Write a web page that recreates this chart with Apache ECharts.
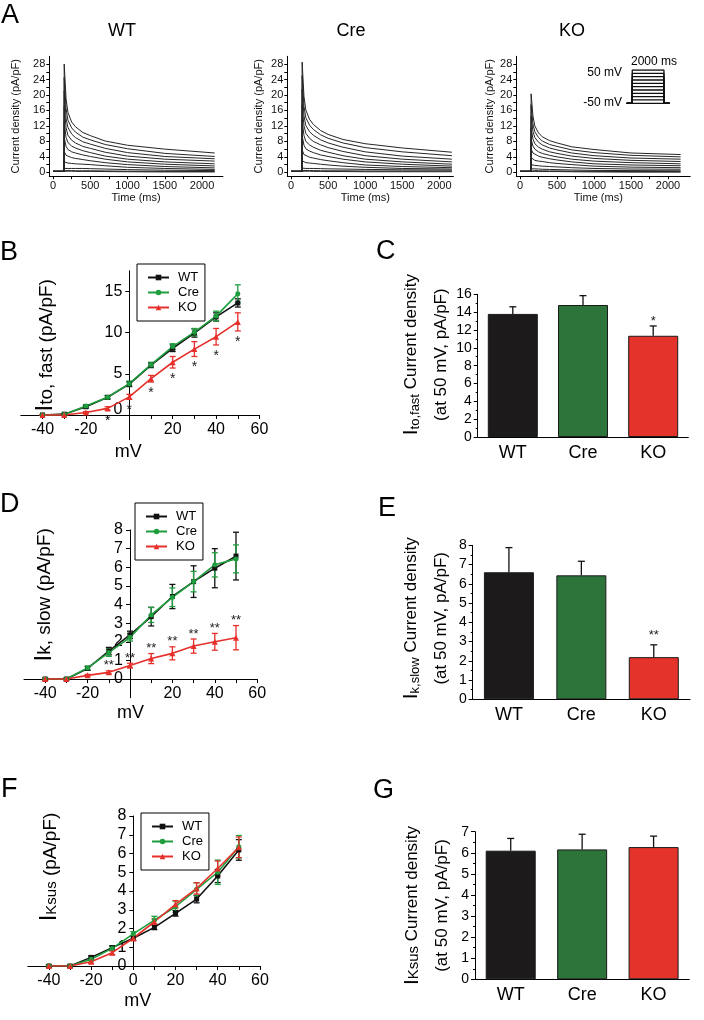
<!DOCTYPE html>
<html><head><meta charset="utf-8">
<script src="https://cdn.jsdelivr.net/npm/echarts@6/dist/echarts.min.js"></script>
<style>html,body{margin:0;padding:0;background:#fff}#c{width:704px;height:1020px}</style>
</head><body><div id="c"></div>
<script>
const FONT = "'Liberation Sans', Arial, Helvetica, sans-serif";

// ---------- Panel A: sampled current traces (pA/pF) ----------
const traceTimes = [0, 148, 150, 175, 200, 250, 300, 400, 500, 700, 1000, 1500, 2170];
const holdingCurrent = 0.25;
const testPotentials = [-50, -40, -30, -20, -10, 0, 10, 20, 30, 40, 50];
const wtTraces = [
  [0.3, 0.3, 0.3, 0.3, 0.25, 0.25, 0.25, 0.2, 0.15, 0.1, 0.1],
  [0.45, 0.45, 0.45, 0.45, 0.4, 0.4, 0.4, 0.35, 0.3, 0.25, 0.2],
  [1.0, 1.0, 1.0, 1.0, 1.0, 1.0, 0.95, 0.85, 0.7, 0.55, 0.45],
  [2.7, 2.5, 2.4, 2.3, 2.2, 2.1, 2.0, 1.7, 1.3, 1.0, 0.75],
  [5.4, 4.4, 4.0, 3.8, 3.6, 3.3, 3.0, 2.5, 2.0, 1.5, 1.15],
  [9.0, 6.7, 5.9, 5.3, 5.0, 4.5, 4.1, 3.4, 2.7, 2.1, 1.65],
  [13.0, 9.0, 7.7, 6.8, 6.3, 5.6, 5.1, 4.2, 3.4, 2.7, 2.2],
  [17.0, 11.5, 9.6, 8.3, 7.6, 6.7, 6.2, 5.2, 4.2, 3.4, 2.9],
  [21.0, 14.0, 11.6, 9.9, 9.0, 7.9, 7.3, 6.2, 5.1, 4.1, 3.5],
  [24.5, 16.5, 13.5, 11.5, 10.4, 9.1, 8.4, 7.2, 6.1, 4.9, 4.1],
  [28.0, 19.0, 15.5, 13.0, 11.8, 10.3, 9.5, 8.1, 7.0, 6.0, 5.0]
];
const creTraces = [
  [0.3, 0.3, 0.3, 0.3, 0.25, 0.25, 0.2, 0.2, 0.15, 0.15, 0.15],
  [0.5, 0.5, 0.5, 0.45, 0.45, 0.4, 0.4, 0.4, 0.35, 0.35, 0.35],
  [1.1, 1.0, 1.0, 1.0, 1.0, 0.95, 0.9, 0.85, 0.75, 0.65, 0.6],
  [3.0, 2.6, 2.5, 2.4, 2.3, 2.1, 1.9, 1.6, 1.3, 1.0, 0.85],
  [5.8, 4.6, 4.2, 3.9, 3.7, 3.3, 3.0, 2.5, 1.9, 1.5, 1.2],
  [9.5, 7.0, 6.1, 5.5, 5.1, 4.5, 4.1, 3.4, 2.7, 2.1, 1.6],
  [13.5, 9.5, 8.0, 7.1, 6.5, 5.7, 5.2, 4.3, 3.4, 2.7, 2.1],
  [17.5, 12.0, 10.1, 8.8, 8.0, 7.1, 6.4, 5.4, 4.3, 3.4, 2.7],
  [21.5, 14.6, 12.1, 10.5, 9.6, 8.4, 7.6, 6.5, 5.3, 4.2, 3.4],
  [25.0, 17.0, 14.1, 12.2, 11.1, 9.7, 8.8, 7.6, 6.4, 5.3, 4.3],
  [28.5, 19.6, 16.1, 13.7, 12.4, 10.8, 9.8, 8.5, 7.4, 6.3, 5.2]
];
const koTraces = [
  [0.25, 0.25, 0.25, 0.2, 0.2, 0.2, 0.2, 0.15, 0.1, 0.05, 0.05],
  [0.45, 0.45, 0.45, 0.4, 0.4, 0.35, 0.35, 0.3, 0.25, 0.2, 0.2],
  [0.9, 0.9, 0.9, 0.85, 0.8, 0.75, 0.7, 0.6, 0.5, 0.45, 0.4],
  [2.0, 1.9, 1.8, 1.7, 1.6, 1.5, 1.4, 1.2, 1.0, 0.85, 0.8],
  [3.8, 3.3, 3.1, 2.9, 2.8, 2.5, 2.3, 2.0, 1.6, 1.35, 1.2],
  [6.0, 5.0, 4.6, 4.2, 3.9, 3.5, 3.2, 2.7, 2.2, 1.9, 1.7],
  [8.6, 6.8, 6.0, 5.3, 4.9, 4.4, 4.0, 3.4, 2.9, 2.5, 2.2],
  [11.5, 8.6, 7.4, 6.5, 6.0, 5.3, 4.9, 4.2, 3.6, 3.1, 2.8],
  [14.5, 10.6, 9.0, 7.8, 7.1, 6.3, 5.8, 5.0, 4.3, 3.7, 3.4],
  [17.5, 12.5, 10.5, 9.0, 8.1, 7.2, 6.7, 5.8, 5.1, 4.4, 4.0],
  [20.3, 14.6, 12.0, 10.2, 9.2, 8.2, 7.6, 6.6, 5.9, 5.0, 4.6]
];
// voltage protocol (inset)
const protocolTimes = [-350, 0, 0, 2000, 2000, 2350];
const holdingPotential = -50;

// ---------- Panels B, D, F: I-V relations ----------
const ivVoltages = [-40, -30, -20, -10, 0, 10, 20, 30, 40, 50];
const itoWT     = [0, 0.1, 1.0, 2.15, 3.75, 6.05, 8.1, 9.95, 11.9, 13.6];
const itoWTErr  = [0.05, 0.05, 0.15, 0.2, 0.3, 0.3, 0.4, 0.5, 0.5, 0.5];
const itoCre    = [0, 0.05, 1.1, 2.15, 3.8, 6.1, 8.3, 10.05, 12.0, 14.7];
const itoCreErr = [0.05, 0.05, 0.15, 0.2, 0.3, 0.3, 0.35, 0.45, 0.6, 1.1];
const itoKO     = [0, 0, 0.3, 0.8, 2.2, 4.4, 6.4, 8.0, 9.5, 11.3];
const itoKOErr  = [0.05, 0.05, 0.1, 0.2, 0.3, 0.4, 0.7, 0.9, 1.0, 1.1];
const itoSigV   = [-10, 0, 10, 20, 30, 40, 50];
const itoSig    = ['*', '*', '*', '*', '*', '*', '*'];

const ikslowWT     = [0, 0, 0.57, 1.5, 2.37, 3.35, 4.43, 5.23, 5.95, 6.6];
const ikslowWTErr  = [0.05, 0.05, 0.1, 0.2, 0.2, 0.5, 0.65, 0.85, 1.05, 1.28];
const ikslowCre    = [0, 0, 0.6, 1.42, 2.24, 3.44, 4.39, 5.23, 6.13, 6.45];
const ikslowCreErr = [0.05, 0.05, 0.1, 0.2, 0.2, 0.4, 0.5, 0.55, 0.65, 0.75];
const ikslowKO     = [0, 0, 0.2, 0.36, 0.73, 1.1, 1.38, 1.77, 2.0, 2.22];
const ikslowKOErr  = [0.05, 0.03, 0.05, 0.08, 0.12, 0.27, 0.35, 0.38, 0.45, 0.65];
const ikslowSigV   = [-10, 0, 10, 20, 30, 40, 50];
const ikslowSig    = ['**', '**', '**', '**', '**', '**', '**'];

const iksusWT     = [0, 0, 0.46, 0.98, 1.48, 2.06, 2.81, 3.57, 4.8, 6.19];
const iksusWTErr  = [0.05, 0.05, 0.08, 0.1, 0.12, 0.12, 0.15, 0.2, 0.35, 0.55];
const iksusCre    = [0, 0, 0.36, 0.94, 1.71, 2.45, 3.16, 4.09, 5.0, 6.36];
const iksusCreErr = [0.05, 0.05, 0.08, 0.12, 0.12, 0.2, 0.3, 0.35, 0.65, 0.6];
const iksusKO     = [0, 0, 0.23, 0.71, 1.48, 2.36, 3.29, 4.14, 5.2, 6.33];
const iksusKOErr  = [0.05, 0.05, 0.08, 0.1, 0.12, 0.15, 0.2, 0.3, 0.4, 0.55];

// ---------- Panels C, E, G: values at +50 mV ----------
const groups = ['WT', 'Cre', 'KO'];
const itoBar = [13.8, 14.8, 11.35];
const itoBarErr = [0.8, 1.05, 1.1];
const itoBarSig = ['', '', '*'];
const ikslowBar = [6.6, 6.44, 2.19];
const ikslowBarErr = [1.28, 0.73, 0.64];
const ikslowBarSig = ['', '', '**'];
const iksusBar = [6.1, 6.16, 6.27];
const iksusBarErr = [0.58, 0.72, 0.52];

// ---------- styling ----------
const C_WT = '#111111', C_CRE = '#1f9e3e', C_KO = '#e6302b';
const BAR_COLORS = ['#1c1a1a', '#2c7439', '#e3332a'];
const BLACK = '#000';

const chart = echarts.init(document.getElementById('c'), null, {renderer: 'canvas'});

const gridBoxes = [
  [49.3, 56.3, 173.6, 119.9],
  [287.3, 56.3, 166.1, 119.9],
  [516.3, 56.3, 173.9, 119.9],
  [626.7, 70, 42.8, 33.3],
  [20.8, 270.8, 238.7, 168.9],
  [477.7, 294.3, 210.6, 142.7],
  [24, 530, 233.2, 167.7],
  [472.7, 545.3, 217.3, 154],
  [27.8, 816, 232.1, 150],
  [475, 831.7, 214.3, 147.6]
];
const grids = gridBoxes.map(b => ({left: b[0], top: b[1], width: b[2], height: b[3],
  containLabel: false, outerBoundsMode: 'none'}));

const lineStyleAxis = {color: BLACK, width: 1};
function range(a, b, s) { const r = []; for (let v = a; v <= b + 1e-9; v += s) r.push(+v.toFixed(3)); return r; }

const xAxes = [], yAxes = [];
// Panel A axes
const aXMax = [2280, 2190, 2300];
const aYNameGap = [28, 23, 21];
const aXNamePad = [0, 10, 10];
for (let g = 0; g < 3; g++) {
  xAxes.push({gridIndex: g, type: 'value', min: -50, max: aXMax[g],
    axisLine: {onZero: false, lineStyle: lineStyleAxis},
    axisTick: {customValues: range(0, 2000, 250), length: 3, lineStyle: lineStyleAxis},
    axisLabel: {customValues: range(0, 2000, 500), formatter: v => String(v), fontSize: 11, margin: 4, color: '#111', fontFamily: FONT},
    splitLine: {show: false},
    name: 'Time (ms)', nameLocation: 'middle', nameGap: 14,
    nameTextStyle: {fontSize: 11, color: '#111', fontFamily: FONT, padding: [0, aXNamePad[g], 0, 0]}
  });
  yAxes.push({gridIndex: g, type: 'value', min: -1, max: 30,
    axisLine: {onZero: false, lineStyle: lineStyleAxis},
    axisTick: {customValues: range(0, 28, 2), length: 3, lineStyle: lineStyleAxis},
    axisLabel: {customValues: range(0, 28, 4), fontSize: 11, margin: 4, color: '#111', fontFamily: FONT},
    splitLine: {show: false},
    name: 'Current density (pA/pF)', nameLocation: 'middle', nameRotate: 90, nameGap: aYNameGap[g],
    nameTextStyle: {fontSize: 11, color: '#111', fontFamily: FONT}
  });
}
// protocol inset axes (hidden)
xAxes.push({gridIndex: 3, type: 'value', min: -350, max: 2350, show: false});
yAxes.push({gridIndex: 3, type: 'value', min: -50, max: 50, show: false});

// I-V panels: axes cross at the origin (offset = pixel distance of 0 from the grid edge)
const IV_X = [-50, 60];
function zeroOffset(min, max, len) { return -((0 - min) / (max - min)) * len; }
function ivXAxis(gi, yMin, yMax, labelVals, nameGap, padR) {
  return {gridIndex: gi, type: 'value', min: IV_X[0], max: IV_X[1],
    offset: zeroOffset(yMin, yMax, gridBoxes[gi][3]),
    axisLine: {onZero: false, lineStyle: lineStyleAxis},
    axisTick: {customValues: range(-40, 60, 10), length: 4, lineStyle: lineStyleAxis},
    axisLabel: {customValues: labelVals, fontSize: 16, margin: 7, color: BLACK, fontFamily: FONT},
    splitLine: {show: false},
    name: 'mV', nameLocation: 'middle', nameGap: nameGap,
    nameTextStyle: {fontSize: 18, color: BLACK, fontFamily: FONT, padding: [0, padR, 0, 0]}
  };
}
function ivYAxis(gi, min, max, labelVals, name, rich, nameGap, padL, labelRich) {
  return {gridIndex: gi, type: 'value', min: min, max: max,
    offset: zeroOffset(IV_X[0], IV_X[1], gridBoxes[gi][2]),
    axisLine: {onZero: false, lineStyle: lineStyleAxis},
    axisTick: {customValues: labelVals, length: 4, lineStyle: lineStyleAxis},
    axisLabel: {customValues: labelVals, fontSize: 16, margin: 7, color: BLACK, fontFamily: FONT,
      formatter: labelRich ? (v => (v === 0 ? '{z|0}' : String(v))) : undefined,
      rich: labelRich ? {z: {fontSize: 16, fontFamily: FONT, color: BLACK, padding: [0, 0, 10, 0]}} : undefined},
    splitLine: {show: false},
    name: name, nameLocation: 'middle', nameRotate: 90, nameGap: nameGap,
    nameTextStyle: {color: BLACK, fontFamily: FONT, padding: [0, 0, 0, padL], rich: rich}
  };
}
const richIV = {
  i: {fontSize: 24, fontFamily: FONT, color: BLACK, lineHeight: 24},
  m: {fontSize: 19, fontFamily: FONT, color: BLACK, lineHeight: 24, padding: [2, 0, 0, 0]},
  k: {fontSize: 15, fontFamily: FONT, color: BLACK, lineHeight: 24, padding: [5, 0, 0, 0]}
};
function barXAxis(gi) {
  return {gridIndex: gi, type: 'category', data: groups,
    axisLine: {lineStyle: lineStyleAxis}, axisTick: {show: false},
    axisLabel: {fontSize: 18, margin: 7, color: BLACK, fontFamily: FONT}, splitLine: {show: false}};
}
const richBar = {
  i: {fontSize: 21, fontFamily: FONT, color: BLACK, lineHeight: 30},
  s: {fontSize: 13, fontFamily: FONT, color: BLACK, lineHeight: 30, padding: [8, 0, 0, 0]},
  k: {fontSize: 15, fontFamily: FONT, color: BLACK, lineHeight: 30, padding: [3, 0, 0, 0]},
  m: {fontSize: 17, fontFamily: FONT, color: BLACK, lineHeight: 30}
};
function barYAxis(gi, max, interval, name, nameGap, padL) {
  return {gridIndex: gi, type: 'value', min: 0, max: max, interval: interval,
    axisLine: {show: true, lineStyle: lineStyleAxis},
    axisTick: {show: true, length: 4, lineStyle: lineStyleAxis},
    minorTick: {show: true, splitNumber: 2, length: 2, lineStyle: lineStyleAxis},
    axisLabel: {fontSize: 14, margin: 6, color: BLACK, fontFamily: FONT},
    splitLine: {show: false},
    name: name, nameLocation: 'middle', nameRotate: 90, nameGap: nameGap,
    nameTextStyle: {color: BLACK, fontFamily: FONT, align: 'center', padding: [0, 0, 0, padL], rich: richBar}
  };
}
// B (4)
xAxes.push(ivXAxis(4, -3, 17.5, [-40, -20, 20, 40, 60], 28, 24));
yAxes.push(ivYAxis(4, -3, 17.5, [0, 5, 10, 15], '{i|I}{m|to, fast (pA/pF)}', richIV, 72, 20, true));
// C (5)
xAxes.push(barXAxis(5));
yAxes.push(barYAxis(5, 16, 2, '{i|I}{s|to,fast}{m| Current density}\n{m|(at 50 mV, pA/pF)}', 21, 22));
// D (6)
xAxes.push(ivXAxis(6, -1, 8, [-40, -20, 20, 40, 60], 25, 20));
yAxes.push(ivYAxis(6, -1, 8, range(0, 8, 1), '{i|I}{m|k, slow (pA/pF)}', richIV, 74, 38, false));
// E (7)
xAxes.push(barXAxis(7));
yAxes.push(barYAxis(7, 8, 1, '{i|I}{s|k,slow}{m| Current density}\n{m|(at 50 mV, pA/pF)}', 16, 8));
// F (8)
xAxes.push(ivXAxis(8, 0, 8, [-40, -20, 0, 20, 40, 60], 26, 12));
yAxes.push(ivYAxis(8, 0, 8, range(0, 8, 1), '{i|I}{k|Ksus}{m| (pA/pF)}', richIV, 72, 48, false));
// G (9)
xAxes.push(barXAxis(9));
yAxes.push(barYAxis(9, 7, 1, '{i|I}{k|Ksus}{m| Current density}\n{m|(at 50 mV, pA/pF)}', 18, 0));

// ---------- series ----------
const series = [];
function traceSeries(gi, traces, tag) {
  traces.forEach((vals, k) => {
    series.push({type: 'line', name: tag + testPotentials[k], xAxisIndex: gi, yAxisIndex: gi,
      data: traceTimes.map((t, i) => [t, i < 2 ? holdingCurrent : vals[i - 2]]),
      symbol: 'none', silent: true, lineStyle: {color: '#262626', width: 1}, z: 2});
  });
}
traceSeries(0, wtTraces, 'wt');
traceSeries(1, creTraces, 'cre');
traceSeries(2, koTraces, 'ko');
testPotentials.forEach(v => {
  series.push({type: 'line', name: 'step' + v, xAxisIndex: 3, yAxisIndex: 3, symbol: 'none', silent: true,
    data: protocolTimes.map((t, i) => [t, (i === 0 || i === 1 || i === 4 || i === 5) ? holdingPotential : v]),
    lineStyle: {color: '#111', width: 1.3}});
});

function makeErrRenderer(color, capHalf, upOnly) {
  return function (params, api) {
    const x = api.value(0), m = api.value(1), e = api.value(2);
    const top = api.coord([x, m + e]);
    const bot = api.coord([x, upOnly ? m : m - e]);
    const st = () => ({stroke: color, lineWidth: 1.3});
    const kids = [
      {type: 'line', shape: {x1: top[0], y1: top[1], x2: bot[0], y2: bot[1]}, style: st()},
      {type: 'line', shape: {x1: top[0] - capHalf, y1: top[1], x2: top[0] + capHalf, y2: top[1]}, style: st()}
    ];
    if (!upOnly) kids.push({type: 'line', shape: {x1: bot[0] - capHalf, y1: bot[1], x2: bot[0] + capHalf, y2: bot[1]}, style: st()});
    return {type: 'group', children: kids};
  };
}
function ivGroup(gi, name, vals, errs, color, symbol, size) {
  series.push({type: 'line', name: name, xAxisIndex: gi, yAxisIndex: gi,
    data: ivVoltages.map((v, i) => [v, vals[i]]),
    symbol: symbol, symbolSize: size, showAllSymbol: true,
    lineStyle: {color: color, width: 1.6}, itemStyle: {color: color}, z: 3});
  series.push({type: 'custom', name: name + '-err', xAxisIndex: gi, yAxisIndex: gi, silent: true,
    data: ivVoltages.map((v, i) => [v, vals[i], errs[i]]), encode: {x: 0, y: 1},
    renderItem: makeErrRenderer(color, 3, false), z: 3});
}
function sigSeries(gi, xs, anchors, texts, dy, fontSize) {
  series.push({type: 'custom', name: 'sig' + gi, xAxisIndex: gi, yAxisIndex: gi, silent: true,
    data: xs.map((x, i) => [x, anchors[i]]), encode: {x: 0, y: 1},
    renderItem: function (params, api) {
      const p = api.coord([api.value(0), api.value(1)]);
      return {type: 'text', x: p[0], y: p[1] + dy,
        style: {text: texts[params.dataIndex], fill: '#222', fontSize: fontSize, fontFamily: FONT,
          textAlign: 'center', textVerticalAlign: 'middle'}};
    }, z: 4});
}
function idxOf(v) { return ivVoltages.indexOf(v); }

// B
ivGroup(4, 'WT', itoWT, itoWTErr, C_WT, 'rect', 5);
ivGroup(4, 'Cre', itoCre, itoCreErr, C_CRE, 'circle', 5);
ivGroup(4, 'KO', itoKO, itoKOErr, C_KO, 'triangle', 6);
sigSeries(4, itoSigV, itoSigV.map(v => itoKO[idxOf(v)] - itoKOErr[idxOf(v)]), itoSig, 11, 14);
// D
ivGroup(6, 'WT', ikslowWT, ikslowWTErr, C_WT, 'rect', 5);
ivGroup(6, 'Cre', ikslowCre, ikslowCreErr, C_CRE, 'circle', 5);
ivGroup(6, 'KO', ikslowKO, ikslowKOErr, C_KO, 'triangle', 6);
sigSeries(6, ikslowSigV, ikslowSigV.map(v => ikslowKO[idxOf(v)] + ikslowKOErr[idxOf(v)]), ikslowSig, -5, 13);
// F
ivGroup(8, 'WT', iksusWT, iksusWTErr, C_WT, 'rect', 5);
ivGroup(8, 'Cre', iksusCre, iksusCreErr, C_CRE, 'circle', 5);
ivGroup(8, 'KO', iksusKO, iksusKOErr, C_KO, 'triangle', 6);

function barGroup(gi, vals, errs, sigs, sigDy) {
  series.push({type: 'bar', name: 'bar' + gi, xAxisIndex: gi, yAxisIndex: gi, barWidth: 50, silent: true,
    data: vals.map((v, i) => ({value: v, itemStyle: {color: BAR_COLORS[i], borderColor: '#1a1a1a', borderWidth: 1}})), z: 2});
  series.push({type: 'custom', name: 'barerr' + gi, xAxisIndex: gi, yAxisIndex: gi, silent: true,
    data: vals.map((v, i) => [i, v, errs[i]]), encode: {x: 0, y: 1},
    renderItem: makeErrRenderer('#111', 3.5, true), z: 3});
  if (sigs) {
    series.push({type: 'custom', name: 'barsig' + gi, xAxisIndex: gi, yAxisIndex: gi, silent: true,
      data: vals.map((v, i) => [i, v + errs[i]]), encode: {x: 0, y: 1},
      renderItem: function (params, api) {
        const p = api.coord([api.value(0), api.value(1)]);
        return {type: 'text', x: p[0], y: p[1] + sigDy,
          style: {text: sigs[params.dataIndex], fill: '#222', fontSize: 13, fontFamily: FONT,
            textAlign: 'center', textVerticalAlign: 'middle'}};
      }, z: 4});
  }
}
barGroup(5, itoBar, itoBarErr, itoBarSig, -5);
barGroup(7, ikslowBar, ikslowBarErr, ikslowBarSig, -9);
barGroup(9, iksusBar, iksusBarErr, null, 0);

// ---------- legends ----------
function legendAt(left, top) {
  return {left: left, top: top, orient: 'vertical', data: ['WT', 'Cre', 'KO'],
    itemWidth: 21, itemHeight: 7, itemGap: 2, padding: [7, 6, 7, 10],
    borderColor: '#000', borderWidth: 1, selectedMode: false,
    textStyle: {fontSize: 13, fontFamily: FONT, color: '#000', lineHeight: 13, padding: [0, 0, 0, 4]}};
}

// ---------- text (panel letters, titles, protocol labels) ----------
function txt(x, y, s, size, align) {
  return {type: 'text', x: x, y: y, silent: true,
    style: {text: s, fontSize: size, fontFamily: FONT, fill: '#000', textAlign: align || 'left', textVerticalAlign: 'middle'}};
}
const graphics = [
  txt(1, 16, 'A', 27), txt(0, 253, 'B', 27), txt(376, 252, 'C', 27), txt(0, 505, 'D', 27),
  txt(378, 509, 'E', 27), txt(1, 790, 'F', 27), txt(373, 791, 'G', 27),
  txt(122, 31, 'WT', 18, 'center'), txt(351, 31, 'Cre', 18, 'center'), txt(572, 31, 'KO', 18, 'center'),
  txt(654, 62, '2000 ms', 12, 'center'), txt(622, 73, '50 mV', 12, 'right'), txt(622, 103, '-50 mV', 12, 'right')
];

chart.setOption({
  animation: false,
  backgroundColor: '#fff',
  textStyle: {fontFamily: FONT},
  grid: grids,
  xAxis: xAxes,
  yAxis: yAxes,
  legend: [legendAt(137, 264), legendAt(135, 503), legendAt(141, 813)],
  series: series,
  graphic: graphics
});
</script></body></html>
